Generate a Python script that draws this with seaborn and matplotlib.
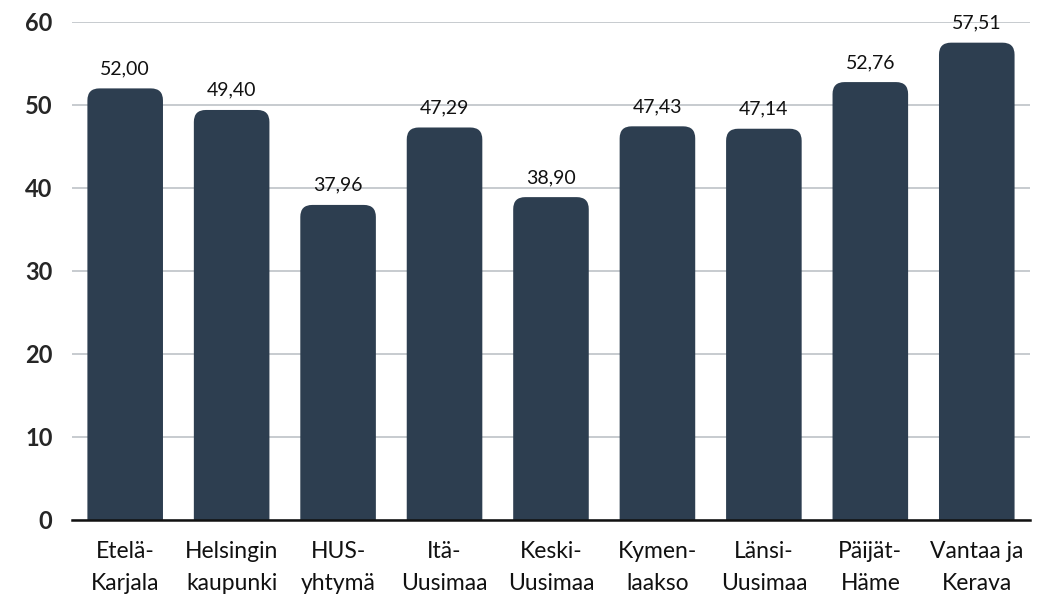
import matplotlib
matplotlib.use("Agg")
import matplotlib.pyplot as plt
import seaborn as sns
import pandas as pd
from matplotlib.patches import FancyBboxPatch

alueet = ["Etelä-\nKarjala", "Helsingin\nkaupunki", "HUS-\nyhtymä", "Itä-\nUusimaa",
          "Keski-\nUusimaa", "Kymen-\nlaakso", "Länsi-\nUusimaa", "Päijät-\nHäme", "Vantaa ja\nKerava"]
arvot = [52.00, 49.40, 37.96, 47.29, 38.90, 47.43, 47.14, 52.76, 57.51]
yticks = [0, 10, 20, 30, 40, 50, 60]

df = pd.DataFrame({"alue": alueet, "arvo": arvot})

sns.set_style("white")
plt.rcParams["font.family"] = ["Lato", "DejaVu Sans"]

fig = plt.figure(figsize=(10.46, 6.01), dpi=100)
ax = fig.add_axes([0.0688, 0.1348, 0.9159, 0.8286])

vari = "#2d3e50"
sns.barplot(data=df, x="alue", y="arvo", color=vari, width=0.71, saturation=1, ax=ax)

# pyöristetyt yläkulmat: korvataan palkit
ax.set_ylim(0, 60)
ax.set_xlim(-0.5, 8.5)
px_x = 958.5 / 9  # pikseliä / yksikkö x
px_y = 498 / 60
r = 12
aspect = px_x / px_y
for p in list(ax.patches):
    x0, w, h = p.get_x(), p.get_width(), p.get_height()
    pad = r / px_x
    box = FancyBboxPatch((x0 + pad, -5 + pad * aspect), w - 2 * pad, h + 5 - 2 * pad * aspect,
                         boxstyle=f"round,pad={pad}", mutation_aspect=aspect,
                         fc=vari, ec="none", clip_on=True, zorder=2)
    ax.add_patch(box)
    p.remove()

for i, v in enumerate(arvot):
    ax.annotate(f"{v:.2f}".replace(".", ","), (i, v), xytext=(0, 8), textcoords="offset points",
                ha="center", va="bottom", fontsize=14, color="#111111")

ax.set_yticks(yticks)
ax.set_yticklabels([str(t) for t in yticks], fontsize=17, fontweight="bold")
ax.tick_params(axis="y", length=0, pad=14)
ax.tick_params(axis="x", length=0, pad=15, labelsize=16.5, labelcolor="#111111")
for lab in ax.get_xticklabels():
    lab.set_linespacing(1.65)
ax.grid(axis="y", color="#c3c7cc", linewidth=1.3, zorder=0)
ax.set_axisbelow(True)
for s in ["top", "right", "left"]:
    ax.spines[s].set_visible(False)
ax.spines["bottom"].set_color("#111111")
ax.spines["bottom"].set_linewidth(1.8)
ax.spines["bottom"].set_zorder(3)
ax.set_xlabel("")
ax.set_ylabel("")

fig.savefig("out.png", dpi=100)
